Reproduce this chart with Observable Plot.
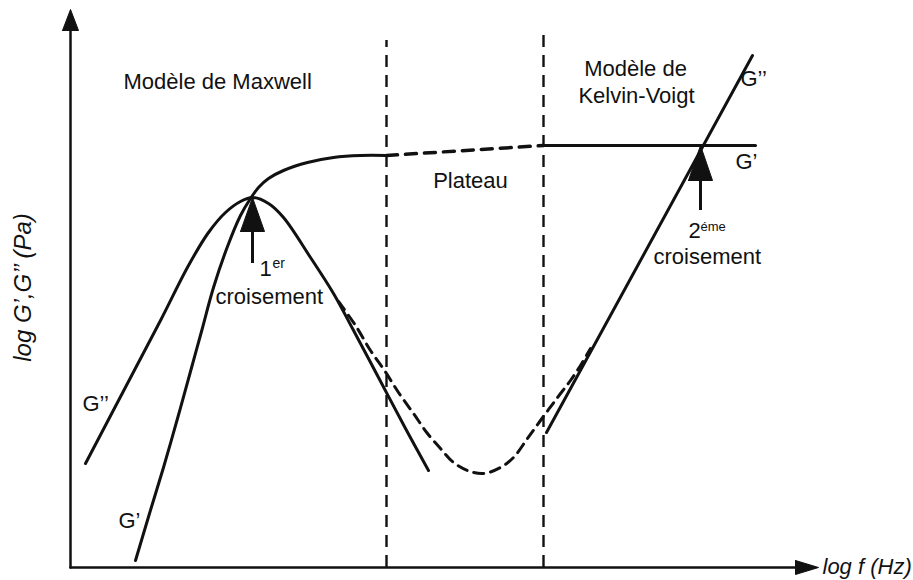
<!DOCTYPE html>
<html>
<head>
<meta charset="utf-8">
<script src="https://cdn.jsdelivr.net/npm/d3@7"></script>
<script src="https://cdn.jsdelivr.net/npm/@observablehq/plot@0.6"></script>
<style>
  html, body { margin: 0; padding: 0; background: #fff; }
  #chart { width: 913px; height: 580px; }
</style>
</head>
<body>
<div id="chart"></div>
<script>
// ---- Data (schematic units: x = log f, y = log G', G'') ----
// Maxwell region, G'' (bell shape)
const gSecondMaxwell = [[15,104],[58,186],[90,247],[118,302],[138,335],[155,355],[170,366],[182,370],[198,364],[213,350],[240,310],[263,274],[282,239],[308,190],[335,139],[358,97]];
// Maxwell region, G' (rising to plateau)
const gPrimeMaxwell = [[65,7],[79,54],[93,100],[107,149],[120,196],[131,236],[143,280],[157,321],[170,352],[180,369],[188,380],[198,389],[213,397],[237,405],[263,410],[290,412],[316,412]];
// Plateau (dashed) G'
const gPrimePlateau = [[316,412],[473,422]];
// Kelvin-Voigt region G'
const gPrimeKV = [[473,422],[685,422]];
// Dashed G'' through the plateau minimum
const gSecondPlateau = [[268,266],[285,242],[300,217],[314,197],[328,175],[343,154],[357,134],[370,119],[383,105],[397,97],[413,94],[430,100],[443,110],[457,129],[470,147],[487,170],[500,187],[510,202],[520,219]];
// Kelvin-Voigt region G''
const gSecondKV = [[476,135],[682,512]];

// Region boundaries (dashed verticals): x, top
const boundaries = [{x:316, top:527}, {x:473, top:534}];

// Axes
const axisX = {end:725, tip:748, half:7};
const axisY = {end:537, tip:558, half:8};

// Crossing arrows: x, tip, head base, tail, half width
const crossArrows = [
  {x:182, tip:370, base:336, tail:304, half:12},
  {x:630, tip:422, base:387, tail:357, half:12}
];

// Text labels
const labels = [
  {x:53,  y:479, text:"Modèle de Maxwell", size:22, anchor:"start"},
  {x:400, y:380, text:"Plateau", size:22, anchor:"middle"},
  {x:565, y:492, text:"Modèle de", size:22, anchor:"middle"},
  {x:566, y:465, text:"Kelvin-Voigt", size:22, anchor:"middle"},
  {x:670, y:482, text:"G’’", size:22, anchor:"start"},
  {x:665, y:399, text:"G’", size:22, anchor:"start"},
  {x:12,  y:157, text:"G’’", size:22, anchor:"start"},
  {x:48,  y:40,  text:"G’", size:22, anchor:"start"},
  {x:189, y:292, text:"1", size:22, anchor:"start"},
  {x:202, y:300, text:"er", size:14, anchor:"start"},
  {x:145, y:264, text:"croisement", size:22, anchor:"start"},
  {x:618, y:330, text:"2", size:22, anchor:"start"},
  {x:630, y:337, text:"éme", size:13, anchor:"start"},
  {x:583, y:304, text:"croisement", size:22, anchor:"start"}
];
const axisLabels = [
  {x:752, y:-6, text:"log f (Hz)", rotate:0, anchor:"start"},
  {x:-40, y:280, text:"log G’,G’’ (Pa)", rotate:-90, anchor:"middle"}
];

// ---- Derived geometry ----
const xAxisLine = [[0,0],[axisX.end,0]];
const yAxisLine = [[0,0],[0,axisY.end]];
const xHead = [[axisX.end,axisX.half],[axisX.tip,0],[axisX.end,-axisX.half],[axisX.end,axisX.half]];
const yHead = [[-axisY.half,axisY.end],[0,axisY.tip],[axisY.half,axisY.end],[-axisY.half,axisY.end]];
const boundaryRules = boundaries.map(b => ({x:b.x, y1:0, y2:b.top}));
const shafts = crossArrows.map(a => ({x:a.x, y1:a.tail, y2:a.base+2}));
const heads = crossArrows.flatMap((a,i) => [
  {id:i, x:a.x-a.half, y:a.base},
  {id:i, x:a.x, y:a.tip},
  {id:i, x:a.x+a.half, y:a.base},
  {id:i, x:a.x-a.half, y:a.base}
]);

const font = "'Liberation Sans', Arial, Helvetica, sans-serif";
const ink = "#111";
const px = d => d[0], py = d => d[1];

const chart = Plot.plot({
  width: 913,
  height: 580,
  margin: 0,
  x: {domain: [-70, 843], range: [0, 913], axis: null},
  y: {domain: [-13, 567], range: [580, 0], axis: null},
  style: {fontFamily: font, background: "#fff", color: ink},
  marks: [
    // boundaries
    Plot.ruleX(boundaryRules, {x:"x", y1:"y1", y2:"y2", stroke: ink, strokeWidth: 2.4, strokeDasharray: "12,8"}),
    // curves
    Plot.line(gSecondMaxwell, {x: px, y: py, curve: "catmull-rom", stroke: ink, strokeWidth: 3}),
    Plot.line(gPrimeMaxwell, {x: px, y: py, curve: "catmull-rom", stroke: ink, strokeWidth: 3}),
    Plot.line(gPrimePlateau, {x: px, y: py, stroke: ink, strokeWidth: 3.5, strokeDasharray: "11,8"}),
    Plot.line(gPrimeKV, {x: px, y: py, stroke: ink, strokeWidth: 3}),
    Plot.line(gSecondPlateau, {x: px, y: py, curve: "catmull-rom", stroke: ink, strokeWidth: 3, strokeDasharray: "10,7"}),
    Plot.line(gSecondKV, {x: px, y: py, stroke: ink, strokeWidth: 3}),
    // axes
    Plot.line(xAxisLine, {x: px, y: py, stroke: ink, strokeWidth: 2.5}),
    Plot.line(yAxisLine, {x: px, y: py, stroke: ink, strokeWidth: 2.5}),
    Plot.line(xHead, {x: px, y: py, fill: ink, stroke: ink, strokeWidth: 1}),
    Plot.line(yHead, {x: px, y: py, fill: ink, stroke: ink, strokeWidth: 1}),
    // crossing arrows
    Plot.ruleX(shafts, {x:"x", y1:"y1", y2:"y2", stroke: ink, strokeWidth: 3}),
    Plot.line(heads, {x:"x", y:"y", z:"id", fill: ink, stroke: ink, strokeWidth: 1}),
    // labels
    Plot.text(labels, {x:"x", y:"y", text:"text", fontSize: d => d.size, textAnchor: "start", lineAnchor: "bottom", fill: ink, filter: d => d.anchor === "start"}),
    Plot.text(labels, {x:"x", y:"y", text:"text", fontSize: d => d.size, textAnchor: "middle", lineAnchor: "bottom", fill: ink, filter: d => d.anchor === "middle"}),
    Plot.text(axisLabels.filter(d => d.rotate === 0), {x:"x", y:"y", text:"text", fontSize: 22, fontStyle: "italic", textAnchor: "start", lineAnchor: "bottom", fill: ink}),
    Plot.text(axisLabels.filter(d => d.rotate !== 0), {x:"x", y:"y", text:"text", fontSize: 24, fontStyle: "italic", rotate: -90, textAnchor: "middle", lineAnchor: "bottom", fill: ink})
  ]
});
document.getElementById("chart").appendChild(chart);
</script>
</body>
</html>
